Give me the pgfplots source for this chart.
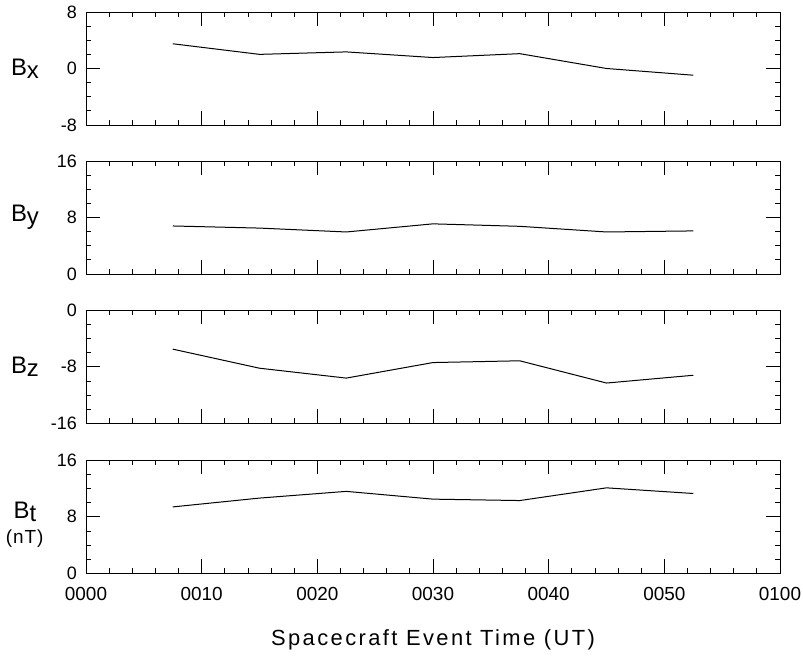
\documentclass[border=0pt]{standalone}
\usepackage{pgfplots}
\pgfplotsset{compat=1.18}
\usepackage{fontspec}
\setmainfont{Liberation Sans}
\newcommand{\sub}[1]{\raisebox{-3bp}{#1}}
\newcommand{\blab}[1]{\fontsize{24}{28}\selectfont B\sub{#1}}
\pgfplotsset{
  panel/.style={
    anchor=south west,
    scale only axis, width=694bp, height=113bp,
    xmin=0, xmax=60,
    xtick={0,10,...,60},
    minor x tick num=4,
    minor y tick num=3,
    tick align=inside,
    major tick length=14bp, minor tick length=5bp,
    xtick pos=both, ytick pos=both, yticklabel pos=left,
    xticklabels={},
    axis line style={line width=0.9bp},
    every tick/.style={black, line width=0.8bp},
    yticklabel style={anchor=east, inner sep=0pt, xshift=-9bp, font=\fontsize{18}{18}\selectfont},
    xticklabel style={anchor=base, inner sep=0pt, yshift=-27.4bp, font=\fontsize{19}{19}\selectfont},
    every axis y label/.style={at={(axis description cs:0,0.5)}, anchor=center, xshift=-61bp, inner sep=0pt},
    clip=false,
  },
  dline/.style={black, line width=1bp, no markers},
}
\begin{document}
\begin{tikzpicture}
\path[use as bounding box] (0bp,0bp) rectangle (803bp,658bp);
% Bx
\begin{axis}[panel, at={(86bp,533bp)}, ymin=-8, ymax=8, ytick={-8,0,8}, yticklabels={-8,0,8}, ylabel={\blab{x}}]
\addplot[dline] coordinates {(7.5,3.5) (15,2.0) (22.5,2.35) (30,1.55) (37.5,2.1) (45,0.0) (52.5,-0.95)};
\end{axis}
% By
\begin{axis}[panel, at={(86bp,384bp)}, ymin=0, ymax=16, ytick={0,8,16}, yticklabels={0,8,16}, ylabel={\blab{y}}]
\addplot[dline] coordinates {(7.5,6.8) (15,6.5) (22.5,5.95) (30,7.1) (37.5,6.75) (45,5.95) (52.5,6.1)};
\end{axis}
% Bz
\begin{axis}[panel, at={(86bp,234.7bp)}, ymin=-16, ymax=0, ytick={-16,-8,0}, yticklabels={-16,-8,0}, ylabel={\blab{z}}]
\addplot[dline] coordinates {(7.5,-5.5) (15,-8.2) (22.5,-9.6) (30,-7.4) (37.5,-7.15) (45,-10.3) (52.5,-9.2)};
\end{axis}
% Bt
\begin{axis}[panel, at={(86bp,84.7bp)}, ymin=0, ymax=16, ytick={0,8,16}, yticklabels={0,8,16},
  ylabel={\blab{t}},
  ylabel style={yshift=5bp},
  xticklabels={0000,0010,0020,0030,0040,0050,0100},
  xlabel={\fontsize{22}{22}\selectfont\addfontfeature{LetterSpace=11}Spacecraft Event Time (UT)},
  every axis x label/.style={at={(axis description cs:0.5,0)}, anchor=base, yshift=-71.7bp}]
\addplot[dline] coordinates {(7.5,9.4) (15,10.65) (22.5,11.6) (30,10.5) (37.5,10.3) (45,12.1) (52.5,11.3)};
\node[anchor=base, inner sep=0pt, xshift=-61.3bp, yshift=-26.2bp, font=\fontsize{19}{22}\selectfont\addfontfeature{LetterSpace=5}] at (axis description cs:0,0.5) {(nT)};
\end{axis}
\end{tikzpicture}
\end{document}
